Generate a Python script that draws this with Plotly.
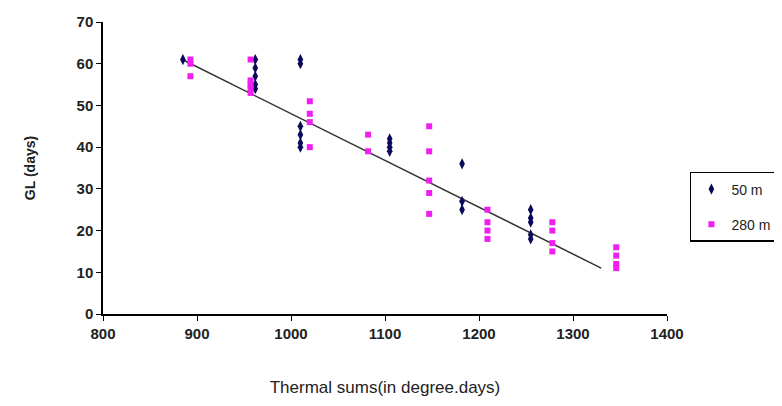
import plotly.graph_objects as go

# 50 m series (navy diamonds)
x_50 = [885, 962, 962, 962, 962, 962, 1010, 1010, 1010, 1010, 1010, 1010,
        1105, 1105, 1105, 1105, 1182, 1182, 1182, 1255, 1255, 1255, 1255, 1255]
y_50 = [61, 61, 59, 57, 55, 54, 61, 60, 45, 43, 41, 40,
        42, 41, 40, 39, 36, 27, 25, 25, 23, 22, 19, 18]

# 280 m series (magenta squares)
x_280 = [893, 893, 893, 957, 957, 957, 957, 957, 1020, 1020, 1020, 1020,
         1082, 1082, 1147, 1147, 1147, 1147, 1147, 1209, 1209, 1209, 1209,
         1278, 1278, 1278, 1278, 1346, 1346, 1346, 1346]
y_280 = [61, 60, 57, 61, 56, 55, 54, 53, 51, 48, 46, 40,
         43, 39, 45, 39, 32, 29, 24, 25, 22, 20, 18,
         22, 20, 17, 15, 16, 14, 12, 11]

# linear trend line end points
trend_x = [887, 1330]
trend_y = [60.7, 11]

# tick labels
x_ticks = [800, 900, 1000, 1100, 1200, 1300, 1400]
y_ticks = [0, 10, 20, 30, 40, 50, 60, 70]

fig = go.Figure()
fig.add_trace(go.Scatter(x=trend_x, y=trend_y, mode="lines",
                         line=dict(color="#333333", width=1.5), showlegend=False))
fig.add_trace(go.Scatter(x=x_50, y=y_50, mode="markers", name="50 m", legendgroup="a",
                         marker=dict(symbol="diamond-tall", size=8, color="#0A0A5A")))
fig.add_trace(go.Scatter(x=x_280, y=y_280, mode="markers", name="280 m", legendgroup="b",
                         marker=dict(symbol="square", size=6, color="#F01EF0")))

tick_font = dict(family="Liberation Sans, Arial", size=15, color="#222222")
fig.update_layout(
    width=782, height=406,
    margin=dict(l=95, r=123, t=14, b=100, autoexpand=False),
    plot_bgcolor="white", paper_bgcolor="white",
    xaxis=dict(range=[800, 1400], showgrid=False, zeroline=False,
               tickvals=x_ticks, ticktext=[f"<b>{v}</b>" for v in x_ticks],
               showline=True, linecolor="black", linewidth=1.5,
               ticks="outside", ticklen=5, tickcolor="black",
               tickfont=tick_font,
               title=dict(text="Thermal sums(in degree.days)", standoff=40,
                          font=dict(family="Liberation Sans Narrow, Liberation Sans, Arial", size=17, color="#222222"))),
    yaxis=dict(range=[0, 70], showgrid=False, zeroline=False,
               tickvals=y_ticks, ticktext=[f"<b>{v}</b>" for v in y_ticks],
               showline=True, linecolor="black", linewidth=1.5,
               ticks="outside", ticklen=5, tickcolor="black",
               tickfont=tick_font,
               title=dict(text="<b>GL (days)</b>", standoff=38,
                          font=dict(family="Liberation Sans, Arial", size=14, color="#222222"))),
    legend=dict(xref="container", yref="container", x=0.872, y=0.51,
                xanchor="left", yanchor="middle",
                bordercolor="black", borderwidth=1.5, bgcolor="white",
                font=dict(family="Liberation Sans, Arial", size=14, color="#222222"),
                itemwidth=30, tracegroupgap=14),
)
fig.write_html("out.html")
